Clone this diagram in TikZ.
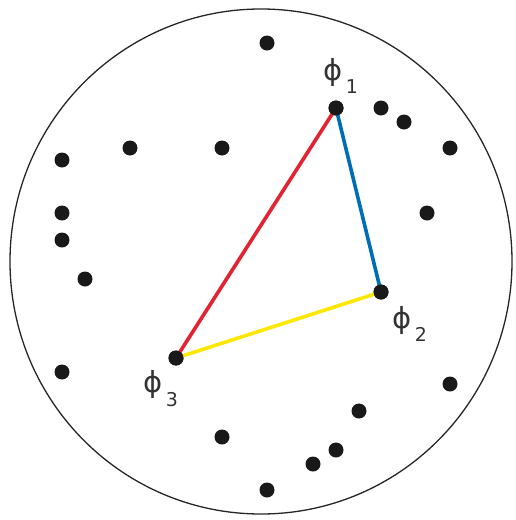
\documentclass[tikz,border=0pt]{standalone}
\usepackage{fontspec}
\setmainfont{DejaVu Sans}
\definecolor{myred}{RGB}{225,35,50}
\definecolor{myblue}{RGB}{0,110,180}
\definecolor{myyellow}{RGB}{255,232,0}
\begin{document}
\begin{tikzpicture}[x=1pt,y=-1pt,
  dot/.style={circle,fill=black!90,inner sep=0pt,minimum size=15pt},
  lab/.style={inner sep=0pt,font=\fontsize{29}{30}\selectfont,text=black!80},
  sub/.style={inner sep=0pt,font=\fontsize{19}{20}\selectfont,text=black!80},
  edge/.style={line width=3.6pt}]
\useasboundingbox (0,0) rectangle (516,520);
\draw[line width=1.3pt,black!85] (261,261.5) ellipse (251pt and 252.5pt);
% triangle vertices
\node[dot] (p1) at (336,108) {};
\node[dot] (p2) at (381,292) {};
\node[dot] (p3) at (176,358) {};
\draw[edge,myred] (p1.center) -- (p3.center);
\draw[edge,myblue] (p1.center) -- (p2.center);
\draw[edge,myyellow] (p2.center) -- (p3.center);
\node[dot] at (336,108) {};
\node[dot] at (381,292) {};
\node[dot] at (176,358) {};
% labels
\node[lab] (l1) at (333,72) {ϕ};
\node[sub] (s1) at (352,87) {1};
\node[lab] (l2) at (402,320) {ϕ};
\node[sub] (s2) at (421,334) {2};
\node[lab] (l3) at (153,384) {ϕ};
\node[sub] (s3) at (172,400) {3};
% other points
\foreach \n/\x/\y in {a/267/43, b/381/108, c/404/122, d/450/148, e/130/148, f/222/148,
  g/62/160, h/62/213, i/62/240, j/427/213, k/85/279, l/62/372, m/450/384, n/359/411,
  o/222/437, p/336/450, q/313/464, r/267/490}
  \node[dot] (\n) at (\x,\y) {};
\end{tikzpicture}
\end{document}
